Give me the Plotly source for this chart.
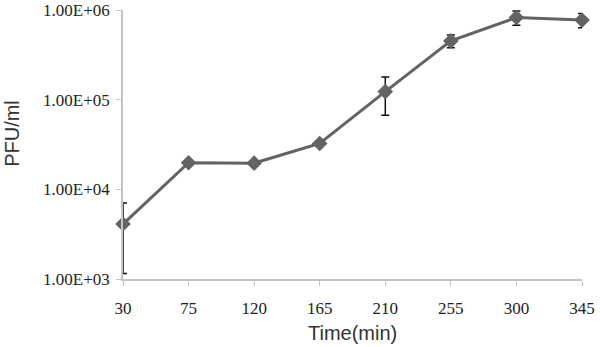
import plotly.graph_objects as go

time_min = [30, 75, 120, 165, 210, 255, 300, 345]
pfu = [4100, 19800, 19600, 32500, 123000, 452000, 825000, 772000]
pfu_err = [2950, 1200, 900, 1800, 56000, 73000, 150000, 140000]
y_tickvals = [1e3, 1e4, 1e5, 1e6]
y_ticktext = ["1.00E+03", "1.00E+04", "1.00E+05", "1.00E+06"]

fig = go.Figure()
fig.add_trace(go.Scatter(
    x=time_min, y=pfu,
    mode="lines+markers",
    line=dict(color="#636363", width=3),
    marker=dict(symbol="diamond", size=12, color="#636363"),
    error_y=dict(type="data", array=pfu_err, visible=True,
                 color="#111111", thickness=1.5, width=4),
    cliponaxis=False,
    showlegend=False,
))

serif = "Liberation Serif"
sans = "Liberation Sans"

fig.update_layout(
    width=600, height=347,
    margin=dict(l=123, r=18, t=10, b=68),
    paper_bgcolor="white", plot_bgcolor="white",
    xaxis=dict(
        range=[30, 345], tickvals=time_min, ticktext=[str(t) for t in time_min],
        showgrid=False, zeroline=False, automargin=False,
        showline=True, linecolor="#c4c4c4", linewidth=1.5,
        ticks="outside", ticklen=5, tickcolor="#c4c4c4", tickwidth=1,
        tickfont=dict(family=serif, size=17, color="#222222"),
        ticklabelstandoff=8,
    ),
    yaxis=dict(
        type="log", range=[3, 6],
        tickvals=y_tickvals, ticktext=y_ticktext,
        showgrid=False, zeroline=False, automargin=False,
        showline=True, linecolor="#c4c4c4", linewidth=1.5,
        ticks="outside", ticklen=5, tickcolor="#c4c4c4", tickwidth=1,
        tickfont=dict(family=serif, size=17, color="#222222"),
        ticklabelstandoff=3,
    ),
    annotations=[
        dict(text="Time(min)", xref="paper", yref="paper", x=0.5, y=-0.2,
             xanchor="center", yanchor="middle", showarrow=False,
             font=dict(family=sans, size=20, color="#333333")),
        dict(text="PFU/ml", xref="paper", yref="paper", x=-0.242, y=0.543,
             xanchor="center", yanchor="middle", showarrow=False, textangle=-90,
             font=dict(family=sans, size=20, color="#333333")),
    ],
)

fig.write_html("out.html", config={"displayModeBar": False},
               post_script="document.body.style.margin='0';")
